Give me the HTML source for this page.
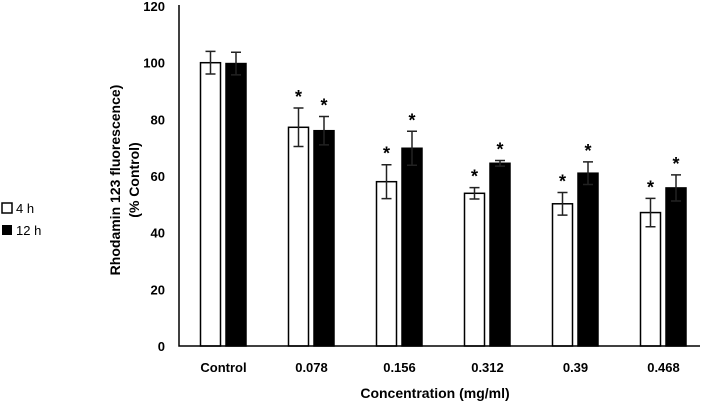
<!DOCTYPE html>
<html><head><meta charset="utf-8"><style>
body{margin:0;background:#fff;width:708px;height:409px;overflow:hidden}
text{font-family:"Liberation Sans",sans-serif}
</style></head><body>
<svg width="708" height="409">
<g id="plot"></g>
<g>
<rect x="2" y="203" width="10" height="10" fill="#fff" stroke="#000" stroke-width="1.5"/>
<text x="16" y="213" font-size="13">4 h</text>
<rect x="2" y="225" width="10" height="10" fill="#000"/>
<text x="16" y="235" font-size="13">12 h</text>
</g>
<text transform="translate(120,180) rotate(-90)" text-anchor="middle" font-size="14" font-weight="bold"><tspan x="0" dy="0">Rhodamin 123 fluorescence)</tspan><tspan x="0" dy="19">(% Control)</tspan></text>
<text x="435" y="398" text-anchor="middle" font-size="14" font-weight="bold">Concentration (mg/ml)</text>
</svg>
<script>
const categories=["Control","0.078","0.156","0.312","0.39","0.468"];
const values4h=[100,77.2,58,53.9,50.2,47.1];
const err4h=[4,6.8,6,2,4,5];
const values12h=[99.7,76,69.8,64.5,61,55.8];
const err12h=[4,5,6,1,4,4.6];
const sig4h=[false,true,true,true,true,true];
const sig12h=[false,true,true,true,true,true];
const yTicks=[0,20,40,60,80,100,120];
const NS="http://www.w3.org/2000/svg";
const g=document.getElementById('plot');
const x0=179,xEnd=700,y0=346,sc=2.833;
const y=v=>y0-v*sc;
const cx=i=>223.5+i*88;
function mk(t,a){const e=document.createElementNS(NS,t);for(const k in a)e.setAttribute(k,a[k]);g.appendChild(e);return e;}
yTicks.forEach(t=>{
const e=mk('text',{x:x0-14,y:y(t)+5,'text-anchor':'end','font-size':13,'font-weight':'bold'});
e.textContent=t;


});
function bars(vals,errs,sig,off,fill,name){
vals.forEach((v,i)=>{
const bx=cx(i)+off,w=20;
const r=mk('rect',{x:bx,y:y(v),width:w,height:y0-y(v),fill:fill,stroke:'#000','stroke-width':1.5});


const m=bx+w/2,t=y(v+errs[i]),b=y(v-errs[i]);
const eb=mk('path',{d:`M${m} ${t}V${b}M${m-5} ${t}H${m+5}M${m-5} ${b}H${m+5}`,stroke:'#222','stroke-width':1.5,fill:'none'});


if(sig[i]){const s=mk('text',{x:m,y:t-5,'text-anchor':'middle','font-size':18,'font-weight':'bold'});s.textContent='*';

}
});
}
bars(values4h,err4h,sig4h,-23,'#fff','4h');
bars(values12h,err12h,sig12h,2.5,'#000','12h');
const ax=mk('path',{d:`M${x0} 5V${y0}H${xEnd}`,stroke:'#000','stroke-width':1.5,fill:'none'});


categories.forEach((c,i)=>{
const e=mk('text',{x:cx(i),y:372,'text-anchor':'middle','font-size':13,'font-weight':'bold'});
e.textContent=c;


});
</script>
</body></html>
